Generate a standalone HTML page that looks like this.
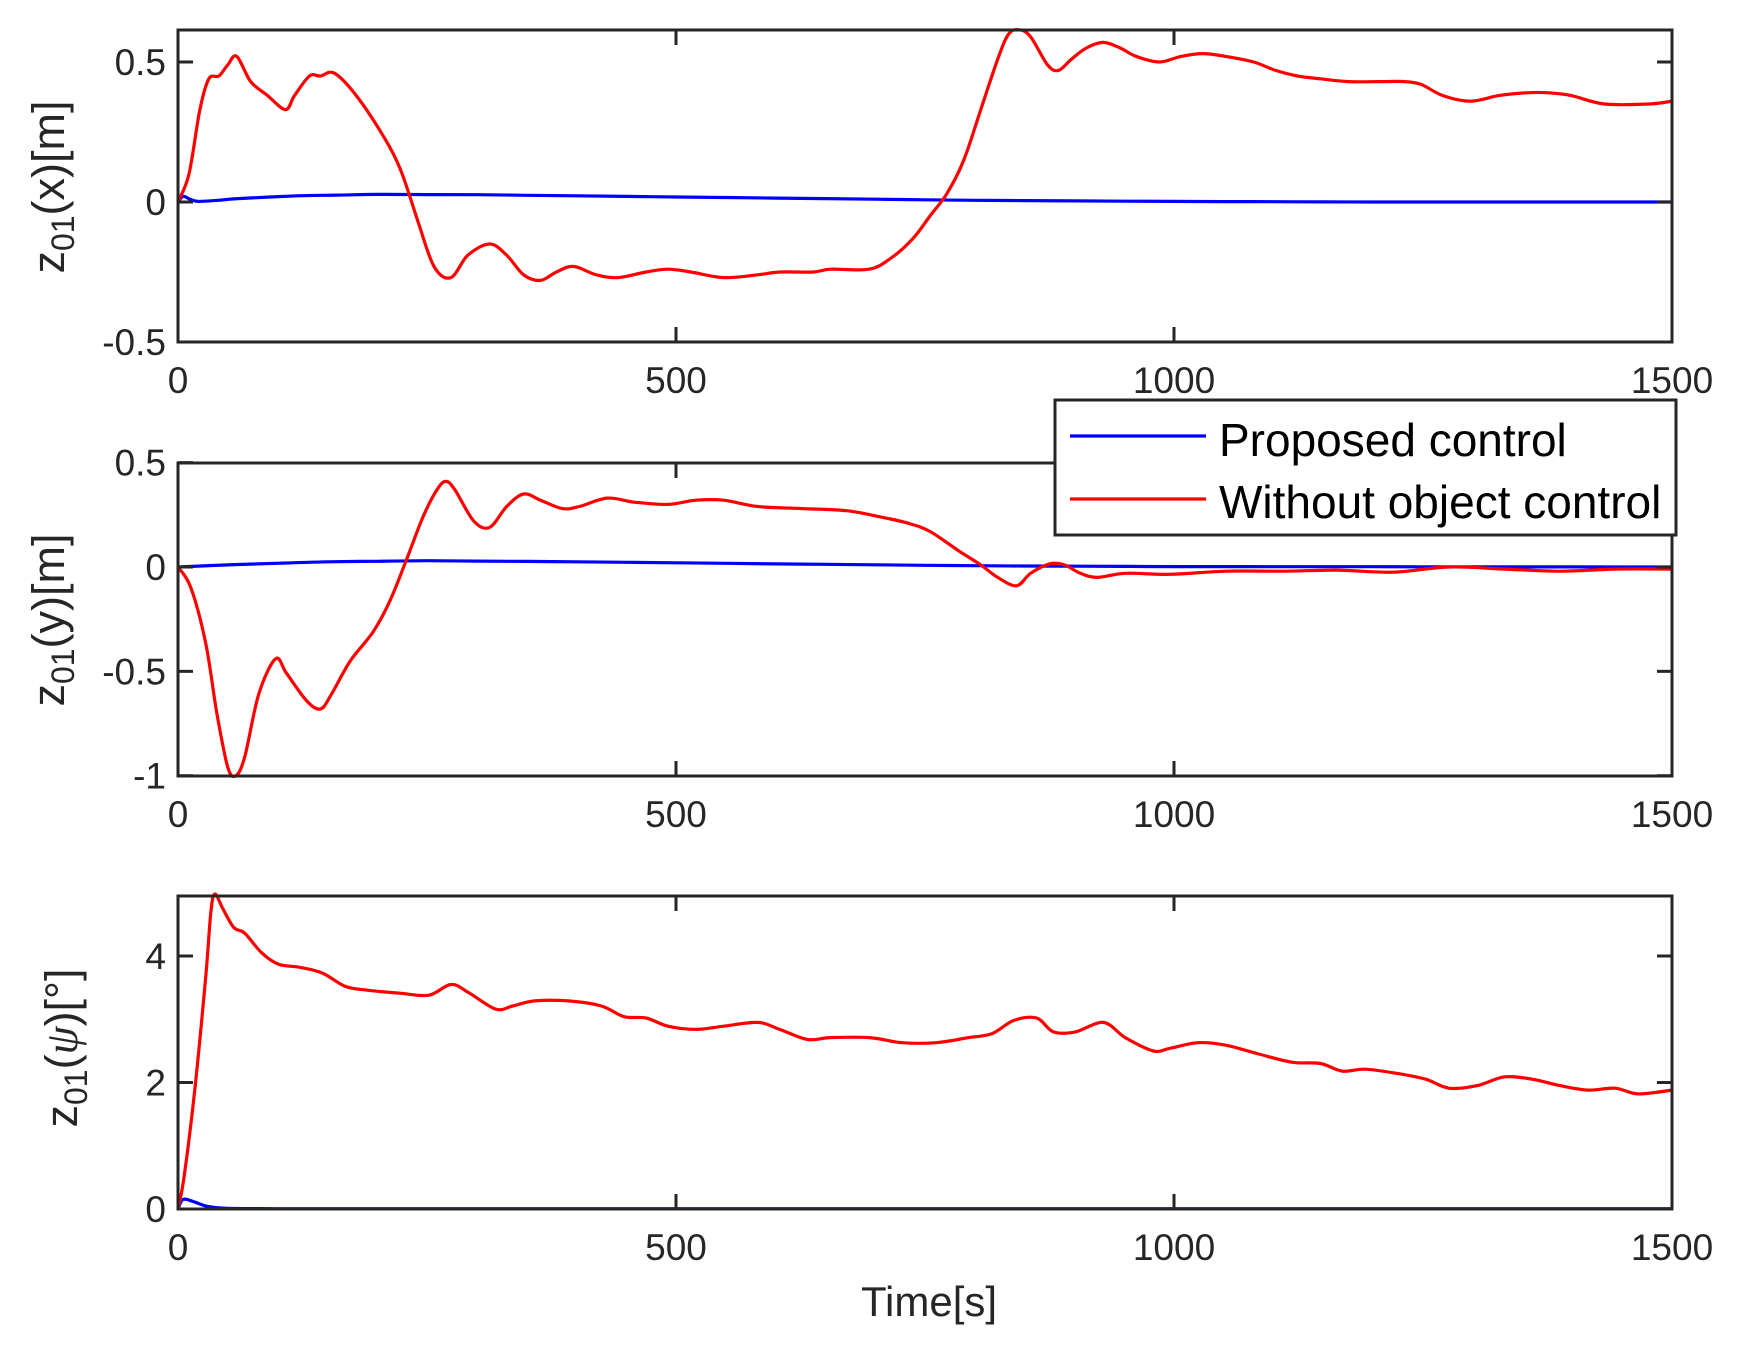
<!DOCTYPE html>
<html><head><meta charset="utf-8"><style>
html,body{margin:0;padding:0;background:#fff}
svg{display:block}
text{font-family:"Liberation Sans",sans-serif;fill:#262626}
</style></head><body>
<svg id="s" width="1745" height="1350" viewBox="0 0 1745 1350" xmlns="http://www.w3.org/2000/svg">
<g id="g"></g>
</svg>
<script>
const NS="http://www.w3.org/2000/svg";
const g=document.getElementById('g');
function el(t,a,txt){const e=document.createElementNS(NS,t);for(const k in a)e.setAttribute(k,a[k]);if(txt!=null)e.textContent=txt;g.appendChild(e);return e;}
const X0=178,X1=1672;
const xs=t=>X0+(X1-X0)*t/1500;
function path(pts,fy){
  const P=pts.map(p=>[xs(p[0]),fy(p[1])]);
  let d="M"+P[0][0].toFixed(1)+","+P[0][1].toFixed(1);
  for(let i=0;i<P.length-1;i++){
    const p0=P[Math.max(0,i-1)],p1=P[i],p2=P[i+1],p3=P[Math.min(P.length-1,i+2)];
    const c1=[p1[0]+(p2[0]-p0[0])/6,p1[1]+(p2[1]-p0[1])/6];
    const c2=[p2[0]-(p3[0]-p1[0])/6,p2[1]-(p3[1]-p1[1])/6];
    d+=" C"+c1[0].toFixed(1)+","+c1[1].toFixed(1)+" "+c2[0].toFixed(1)+","+c2[1].toFixed(1)+" "+p2[0].toFixed(1)+","+p2[1].toFixed(1);
  }
  return d;
}
function panel(top,bot,fy,yticks,red,blue,label){
  el('path',{d:path(blue,fy),fill:'none',stroke:'#0000ff','stroke-width':3.2});
  el('path',{d:path(red,fy),fill:'none',stroke:'#ff0000','stroke-width':3.2});
  el('rect',{x:X0,y:top,width:X1-X0,height:bot-top,fill:'none',stroke:'#262626','stroke-width':3});
  [0,500,1000,1500].forEach(t=>{
    const x=xs(t);
    el('line',{x1:x,y1:bot,x2:x,y2:bot-15,stroke:'#262626','stroke-width':3});
    el('line',{x1:x,y1:top,x2:x,y2:top+15,stroke:'#262626','stroke-width':3});
    el('text',{x:x,y:bot+51,'font-size':37,'text-anchor':'middle'},String(t));
  });
  yticks.forEach(([v,s])=>{
    const y=fy(v);
    el('line',{x1:X0,y1:y,x2:X0+15,y2:y,stroke:'#262626','stroke-width':3});
    el('line',{x1:X1,y1:y,x2:X1-15,y2:y,stroke:'#262626','stroke-width':3});
    el('text',{x:166,y:y+13,'font-size':37,'text-anchor':'end'},s);
  });
  const t=el('text',{transform:`translate(${label.x},${label.y}) rotate(-90)`,'font-size':45,'text-anchor':'middle'});
  t.innerHTML=label.html;
}
function dense(pts){
  const out=[];
  for(let i=0;i<pts.length-1;i++){
    const [a,b]=[pts[i],pts[i+1]];const n=Math.max(1,Math.round((b[0]-a[0])/50));
    for(let k=0;k<n;k++){out.push([a[0]+(b[0]-a[0])*k/n,a[1]+(b[1]-a[1])*k/n]);}
  }
  out.push(pts[pts.length-1]);return out;
}
const f1=v=>202-280*v;
const red1=[[0,0],[11,0.1],[22,0.33],[31,0.44],[41,0.45],[50,0.49],[59,0.52],[73,0.43],[90,0.38],[108,0.33],[117,0.38],[132,0.45],[143,0.45],[157,0.46],[179,0.38],[207,0.23],[224,0.11],[241,-0.07],[257,-0.23],[274,-0.27],[291,-0.19],[313,-0.15],[330,-0.19],[347,-0.26],[364,-0.28],[380,-0.25],[397,-0.23],[420,-0.26],[442,-0.27],[470,-0.25],[492,-0.24],[515,-0.25],[548,-0.27],[582,-0.26],[604,-0.25],[638,-0.25],[655,-0.24],[694,-0.24],[716,-0.2],[738,-0.13],[755,-0.05],[772,0.03],[789,0.15],[806,0.33],[823,0.51],[834,0.6],[845,0.615],[856,0.59],[873,0.49],[884,0.47],[897,0.51],[912,0.55],[929,0.57],[946,0.55],[962,0.52],[985,0.5],[1007,0.52],[1029,0.53],[1052,0.52],[1080,0.5],[1102,0.47],[1124,0.45],[1147,0.44],[1175,0.43],[1208,0.43],[1231,0.43],[1248,0.42],[1270,0.38],[1298,0.36],[1326,0.38],[1354,0.39],[1376,0.39],[1399,0.38],[1432,0.35],[1477,0.35],[1500,0.36]];
const blue1=[[0,0],[5,0.02],[12,0.01],[20,0.002]].concat(dense([[40,0.006],[60,0.012],[120,0.022],[200,0.027],[300,0.026],[450,0.02],[600,0.014],[800,0.006],[1000,0.002],[1200,0.0],[1500,0.0]]));
panel(30,342,f1,[[0.5,'0.5'],[0,'0'],[-0.5,'-0.5']],red1,blue1,{x:64,y:187,html:'z<tspan font-size="32" dy="10">01</tspan><tspan dy="-10">(x)[m]</tspan>'});
const f2=v=>567-208.7*v;
const red2=[[0,0],[13,-0.1],[28,-0.37],[39,-0.7],[50,-0.96],[58,-1.0],[67,-0.91],[81,-0.61],[98,-0.44],[109,-0.51],[129,-0.64],[143,-0.68],[154,-0.61],[173,-0.45],[196,-0.31],[213,-0.16],[229,0.03],[246,0.24],[260,0.37],[269,0.41],[278,0.37],[297,0.22],[313,0.19],[330,0.29],[347,0.35],[364,0.32],[386,0.28],[403,0.29],[431,0.33],[459,0.31],[492,0.3],[520,0.32],[548,0.32],[582,0.29],[627,0.28],[671,0.27],[705,0.24],[733,0.21],[755,0.17],[783,0.08],[806,0.01],[823,-0.05],[842,-0.09],[856,-0.03],[875,0.015],[890,0.01],[906,-0.03],[923,-0.05],[951,-0.03],[996,-0.035],[1052,-0.02],[1108,-0.02],[1164,-0.015],[1220,-0.025],[1276,0],[1332,-0.01],[1388,-0.02],[1443,-0.01],[1500,-0.01]];
const blue2=dense([[0,0],[60,0.012],[150,0.025],[250,0.03],[400,0.025],[600,0.015],[800,0.006],[1000,0.002],[1500,0.0]]);
panel(463,776,f2,[[0.5,'0.5'],[0,'0'],[-0.5,'-0.5'],[-1,'-1']],red2,blue2,{x:64,y:620,html:'z<tspan font-size="32" dy="10">01</tspan><tspan dy="-10">(y)[m]</tspan>'});
const f3=v=>1209-63.25*v;
const red3=[[0,0],[6,0.5],[17,1.9],[28,3.7],[33,4.7],[37,4.98],[45,4.75],[56,4.45],[67,4.36],[84,4.05],[101,3.87],[123,3.82],[145,3.73],[168,3.52],[190,3.46],[224,3.41],[252,3.38],[274,3.55],[291,3.43],[319,3.16],[336,3.21],[358,3.29],[392,3.29],[425,3.21],[448,3.04],[470,3.02],[492,2.89],[520,2.84],[548,2.89],[582,2.95],[604,2.84],[632,2.68],[655,2.71],[694,2.71],[727,2.63],[761,2.63],[794,2.71],[817,2.77],[839,2.98],[862,3.02],[879,2.8],[901,2.8],[929,2.95],[951,2.71],[979,2.5],[996,2.54],[1024,2.63],[1052,2.59],[1085,2.45],[1119,2.32],[1147,2.3],[1169,2.18],[1192,2.21],[1225,2.14],[1253,2.05],[1276,1.91],[1304,1.95],[1332,2.09],[1360,2.05],[1388,1.95],[1416,1.88],[1443,1.91],[1466,1.82],[1500,1.88]];
const blue3=[[0,0],[5,0.15],[15,0.12],[30,0.04],[50,0.01]].concat(dense([[100,0.005],[1500,0.005]]));
panel(896,1209,f3,[[4,'4'],[2,'2'],[0,'0']],red3,blue3,{x:77,y:1048,html:'z<tspan font-size="32" dy="10">01</tspan><tspan dy="-10">(</tspan><tspan font-family="Liberation Serif" font-style="italic">ψ</tspan><tspan>)[°]</tspan>'});
el('text',{x:929,y:1316,'font-size':42,'text-anchor':'middle'},'Time[s]');
el('rect',{x:1055,y:400,width:621,height:135,fill:'#fff',stroke:'#262626','stroke-width':3});
el('line',{x1:1070,y1:436,x2:1206,y2:436,stroke:'#0000ff','stroke-width':3.2});
el('line',{x1:1070,y1:499,x2:1206,y2:499,stroke:'#ff0000','stroke-width':3.2});
el('text',{x:1219,y:456,'font-size':46,style:'fill:#000'},'Proposed control');
el('text',{x:1219,y:518,'font-size':46,style:'fill:#000'},'Without object control');
</script>
</body></html>
